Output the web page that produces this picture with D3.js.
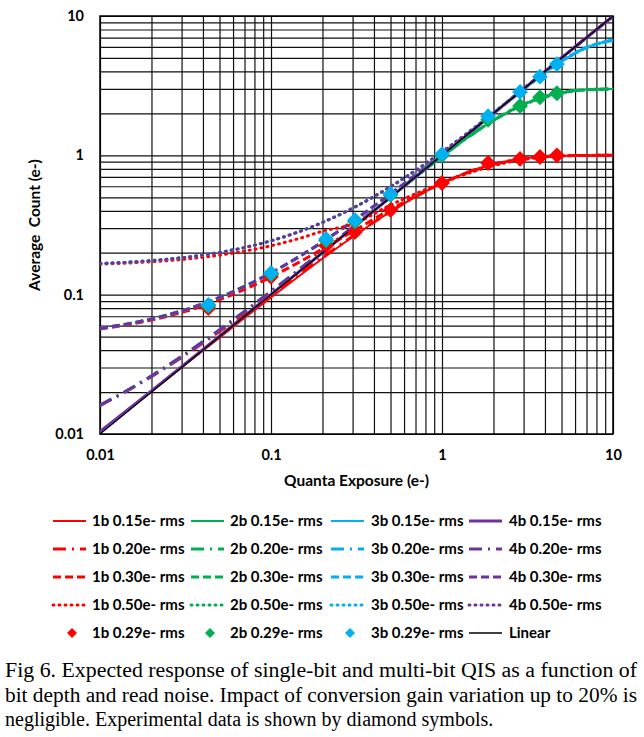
<!DOCTYPE html>
<html>
<head>
<meta charset="utf-8">
<script src="https://cdn.jsdelivr.net/npm/d3@7"></script>
<style>
  html, body { margin: 0; padding: 0; background: #fff; }
  svg { display: block; }
  .lbl { font-family: Lato, "Open Sans", sans-serif; font-weight: bold; fill: #000; white-space: pre; }
  .cap { font-family: "Liberation Serif", "DejaVu Serif", serif; font-size: 20px; fill: #000; }
</style>
</head>
<body>
<div id="chart"></div>
<script>
// quanta exposure (e-), shared x values of the model curves
var exposure = [0.01, 0.015, 0.02, 0.03, 0.05, 0.07, 0.1, 0.15, 0.2, 0.3, 0.5, 0.7, 1, 1.5, 2, 3, 5, 7, 10];

// average count, single bit
var b1_015 = [0.0104, 0.0153, 0.0202, 0.0300, 0.0491, 0.0680, 0.0955, 0.1396, 0.1816, 0.2594, 0.3936, 0.5034, 0.632, 0.777, 0.864, 0.950, 0.993, 0.999, 1.0];
var b1_020 = [0.0160, 0.0210, 0.0258, 0.0354, 0.0544, 0.0730, 0.1002, 0.1438, 0.1854, 0.2624, 0.3954, 0.5043, 0.632, 0.776, 0.864, 0.950, 0.993, 0.999, 1.0];
var b1_030 = [0.0568, 0.0613, 0.0657, 0.0745, 0.0920, 0.1090, 0.1341, 0.1743, 0.2126, 0.2840, 0.4080, 0.5105, 0.632, 0.772, 0.858, 0.945, 0.992, 0.999, 1.0];
var b1_050 = [0.1655, 0.1689, 0.1722, 0.1789, 0.1922, 0.2052, 0.2244, 0.2554, 0.2852, 0.320, 0.440, 0.530, 0.632, 0.759, 0.843, 0.934, 0.989, 0.998, 1.0];
// 2 bit
var b2_015 = [0.0104, 0.0154, 0.0204, 0.0304, 0.0504, 0.0704, 0.1004, 0.1504, 0.2003, 0.2998, 0.4985, 0.6935, 0.977, 1.410, 1.782, 2.328, 2.828, 2.962, 2.997];
var b2_020 = [0.0161, 0.0211, 0.0261, 0.0360, 0.0559, 0.0758, 0.1056, 0.1553, 0.2051, 0.3041, 0.502, 0.696, 0.979, 1.411, 1.782, 2.327, 2.827, 2.961, 2.996];
var b2_030 = [0.0573, 0.0621, 0.0669, 0.0764, 0.0955, 0.1146, 0.1433, 0.1911, 0.2391, 0.335, 0.527, 0.717, 0.992, 1.418, 1.785, 2.318, 2.815, 2.950, 2.99];
var b2_050 = [0.1671, 0.1713, 0.1756, 0.1840, 0.2010, 0.2180, 0.2436, 0.2866, 0.3299, 0.4171, 0.594, 0.771, 1.03, 1.43, 1.79, 2.30, 2.80, 2.955, 2.996];
// 3 bit
var b3_015 = [0.0104, 0.0154, 0.0204, 0.0304, 0.0504, 0.0704, 0.1004, 0.1504, 0.2003, 0.3003, 0.5003, 0.7002, 1.0, 1.499, 1.999, 2.983, 4.744, 5.957, 6.72];
var b3_020 = [0.0161, 0.0211, 0.0261, 0.0360, 0.0559, 0.0758, 0.1056, 0.1553, 0.2051, 0.3046, 0.5038, 0.7031, 1.002, 1.500, 1.999, 2.982, 4.742, 5.955, 6.72];
var b3_030 = [0.0573, 0.0621, 0.0669, 0.0764, 0.0955, 0.1146, 0.1433, 0.1911, 0.2391, 0.3354, 0.529, 0.7237, 1.0176, 1.51, 2.005, 2.985, 4.735, 5.94, 6.71];
var b3_050 = [0.1671, 0.1713, 0.1756, 0.1840, 0.2010, 0.2180, 0.2436, 0.2866, 0.3299, 0.4176, 0.5963, 0.7788, 1.058, 1.535, 2.02, 2.99, 4.72, 5.92, 6.69];
// 4 bit
var b4_015 = [0.0104, 0.0154, 0.0204, 0.0304, 0.0504, 0.0704, 0.1004, 0.1504, 0.2003, 0.3003, 0.5003, 0.7002, 1.0, 1.5, 2.0, 3.0, 5.0, 7.0, 9.95];
var b4_020 = [0.0161, 0.0211, 0.0261, 0.0360, 0.0559, 0.0758, 0.1056, 0.1553, 0.2051, 0.3046, 0.5038, 0.7031, 1.002, 1.501, 2.001, 3.0, 5.0, 7.0, 9.95];
var b4_030 = [0.0573, 0.0621, 0.0669, 0.0764, 0.0955, 0.1146, 0.1433, 0.1911, 0.2391, 0.3354, 0.529, 0.7237, 1.0176, 1.511, 2.007, 3.002, 5.0, 7.0, 9.95];
var b4_050 = [0.1671, 0.1713, 0.1756, 0.1840, 0.2010, 0.2180, 0.2436, 0.2866, 0.3299, 0.4176, 0.5963, 0.7788, 1.058, 1.535, 2.02, 3.008, 5.001, 7.0, 9.94];

// linear reference
var linearX = [0.01, 10];
var linearY = [0.01, 10];

// experimental points (0.29e- rms)
var measX  = [0.043, 0.1, 0.21, 0.31, 0.5, 1.0, 1.86, 2.86, 3.74, 4.7];
var meas1b = [0.080, 0.1345, 0.225, 0.282, 0.405, 0.633, 0.881, 0.942, 0.973, 1.0];
var meas2b = [0.083, 0.140, 0.245, 0.335, 0.520, 1.0, 1.80, 2.26, 2.61, 2.79];
var meas3b = [0.0845, 0.143, 0.251, 0.343, 0.527, 1.02, 1.91, 2.85, 3.67, 4.52];

var tickVals = [0.01, 0.1, 1, 10];
var tickLabels = ["0.01", "0.1", "1", "10"];

var captionLines = [
  "Fig 6. Expected response of single-bit and multi-bit QIS as a function of",
  "bit depth and read noise. Impact of conversion gain variation up to 20% is",
  "negligible. Experimental data is shown by diamond symbols."
];

var width = 644, height = 737;
var plotL = 100, plotR = 613, plotT = 16, plotB = 434;

var red = "#ff0000", green = "#00b050", blue = "#00b0f0", purple = "#7030a0";
var styles = {
  s015: { dash: null, w: 2 },
  s020: { dash: "13,6,2,6", w: 3 },
  s030: { dash: "8,4", w: 3 },
  s050: { dash: "1,5", w: 3 }
};

// one row per read noise, 1b..4b across
var series = [
  { name: "1b 0.15e- rms", v: b1_015, c: red,    s: "s015" },
  { name: "2b 0.15e- rms", v: b2_015, c: green,  s: "s015" },
  { name: "3b 0.15e- rms", v: b3_015, c: blue,   s: "s015" },
  { name: "4b 0.15e- rms", v: b4_015, c: purple, s: "s015", w: 3 },
  { name: "1b 0.20e- rms", v: b1_020, c: red,    s: "s020" },
  { name: "2b 0.20e- rms", v: b2_020, c: green,  s: "s020" },
  { name: "3b 0.20e- rms", v: b3_020, c: blue,   s: "s020" },
  { name: "4b 0.20e- rms", v: b4_020, c: purple, s: "s020" },
  { name: "1b 0.30e- rms", v: b1_030, c: red,    s: "s030" },
  { name: "2b 0.30e- rms", v: b2_030, c: green,  s: "s030" },
  { name: "3b 0.30e- rms", v: b3_030, c: blue,   s: "s030" },
  { name: "4b 0.30e- rms", v: b4_030, c: purple, s: "s030" },
  { name: "1b 0.50e- rms", v: b1_050, c: red,    s: "s050" },
  { name: "2b 0.50e- rms", v: b2_050, c: green,  s: "s050" },
  { name: "3b 0.50e- rms", v: b3_050, c: blue,   s: "s050" },
  { name: "4b 0.50e- rms", v: b4_050, c: purple, s: "s050" }
];
var meas = [
  { name: "1b 0.29e- rms", v: meas1b, c: red },
  { name: "2b 0.29e- rms", v: meas2b, c: green },
  { name: "3b 0.29e- rms", v: meas3b, c: blue }
];

var svg = d3.select("#chart").append("svg")
  .attr("width", width)
  .attr("height", height);

var x = d3.scaleLog().domain([0.01, 10]).range([plotL, plotR]);
var y = d3.scaleLog().domain([0.01, 10]).range([plotB, plotT]);

// grid: 1..9 in each decade
var gridVals = [];
[0.01, 0.1, 1].forEach(function(d){
  for (var k = 1; k < 10; k++) gridVals.push(+(d * k).toPrecision(3));
});
gridVals.push(10);

svg.append("g")
  .attr("transform", "translate(0," + plotB + ")")
  .call(d3.axisBottom(x).tickValues(gridVals).tickSize(-(plotB - plotT)).tickFormat(""))
  .call(function(g){ g.select(".domain").remove(); })
  .selectAll("line").attr("stroke", "#111").attr("stroke-width", 1.2);

svg.append("g")
  .attr("transform", "translate(" + plotL + ",0)")
  .call(d3.axisLeft(y).tickValues(gridVals).tickSize(-(plotR - plotL)).tickFormat(""))
  .call(function(g){ g.select(".domain").remove(); })
  .selectAll("line").attr("stroke", "#111").attr("stroke-width", 1.2);

svg.append("rect")
  .attr("x", plotL).attr("y", plotT)
  .attr("width", plotR - plotL).attr("height", plotB - plotT)
  .attr("fill", "none").attr("stroke", "#000").attr("stroke-width", 1.5);

// tick labels
var xa = svg.append("g")
  .attr("transform", "translate(0," + plotB + ")")
  .call(d3.axisBottom(x).tickValues(tickVals).tickSize(0).tickPadding(16)
    .tickFormat(function(d, i){ return tickLabels[i]; }));
xa.select(".domain").remove();
xa.selectAll("text").attr("class", "lbl").style("font-size", "14.5px");

var ya = svg.append("g")
  .attr("transform", "translate(" + plotL + ",0)")
  .call(d3.axisLeft(y).tickValues(tickVals).tickSize(0).tickPadding(16)
    .tickFormat(function(d, i){ return tickLabels[i]; }));
ya.select(".domain").remove();
ya.selectAll("text").attr("class", "lbl").style("font-size", "14.5px");

svg.append("text").attr("class", "lbl")
  .attr("x", (plotL + plotR) / 2).attr("y", 486)
  .attr("text-anchor", "middle").style("font-size", "15.5px")
  .text("Quanta Exposure (e-)");

svg.append("text").attr("class", "lbl")
  .attr("transform", "translate(40," + ((plotT + plotB) / 2) + ") rotate(-90)")
  .attr("text-anchor", "middle").style("font-size", "15.5px")
  .text("Average  Count (e-)");

// curves
svg.append("clipPath").attr("id", "plotclip")
  .append("rect").attr("x", plotL).attr("y", plotT)
  .attr("width", plotR - plotL).attr("height", plotB - plotT);

var line = d3.line()
  .x(function(d){ return x(d[0]); })
  .y(function(d){ return y(d[1]); })
  .curve(d3.curveMonotoneX);

var plot = svg.append("g").attr("clip-path", "url(#plotclip)");

series.forEach(function(s){
  var st = styles[s.s];
  plot.append("path")
    .datum(d3.zip(exposure, s.v))
    .attr("d", line)
    .attr("fill", "none")
    .attr("stroke", s.c)
    .attr("stroke-width", s.w || st.w)
    .attr("stroke-dasharray", st.dash)
    .attr("stroke-linecap", s.s == "s050" ? "round" : "butt");
});

plot.append("path")
  .datum(d3.zip(linearX, linearY))
  .attr("d", line)
  .attr("fill", "none")
  .attr("stroke", "#000")
  .attr("stroke-width", 1.3);

var diamond = d3.symbol().type(d3.symbolSquare).size(125);
meas.forEach(function(m){
  plot.append("g").selectAll("path")
    .data(d3.zip(measX, m.v))
    .join("path")
    .attr("d", diamond)
    .attr("transform", function(d){ return "translate(" + x(d[0]) + "," + y(d[1]) + ") rotate(45)"; })
    .attr("fill", m.c);
});

// legend
var colLine = [53, 191, 331, 469];
var colText = [92, 230, 371, 509];
var rowY = [521, 549, 577, 605, 633];

var leg = svg.append("g");
series.forEach(function(s, i){
  var r = Math.floor(i / 4), c = i % 4, st = styles[s.s];
  leg.append("line")
    .attr("x1", colLine[c]).attr("x2", colLine[c] + 33)
    .attr("y1", rowY[r]).attr("y2", rowY[r])
    .attr("stroke", s.c)
    .attr("stroke-width", s.w || st.w)
    .attr("stroke-dasharray", st.dash)
    .attr("stroke-linecap", s.s == "s050" ? "round" : "butt");
  leg.append("text").attr("class", "lbl")
    .attr("x", colText[c]).attr("y", rowY[r]).attr("dy", "0.35em")
    .style("font-size", "15px")
    .text(s.name);
});
var legDiamond = d3.symbol().type(d3.symbolSquare).size(50);
meas.forEach(function(m, c){
  leg.append("path")
    .attr("d", legDiamond)
    .attr("transform", "translate(" + (colLine[c] + 19) + "," + rowY[4] + ") rotate(45)")
    .attr("fill", m.c);
  leg.append("text").attr("class", "lbl")
    .attr("x", colText[c]).attr("y", rowY[4]).attr("dy", "0.35em")
    .style("font-size", "15px")
    .text(m.name);
});
leg.append("line")
  .attr("x1", colLine[3]).attr("x2", colLine[3] + 33)
  .attr("y1", rowY[4]).attr("y2", rowY[4])
  .attr("stroke", "#000").attr("stroke-width", 1.3);
leg.append("text").attr("class", "lbl")
  .attr("x", colText[3]).attr("y", rowY[4]).attr("dy", "0.35em")
  .style("font-size", "15px")
  .text("Linear");

// caption
captionLines.forEach(function(t, i){
  var tx = svg.append("text").attr("class", "cap")
    .attr("x", 5).attr("y", 677 + i * 24.5)
    .text(t);
  if (i < 2) tx.attr("textLength", 632).attr("lengthAdjust", "spacingAndGlyphs");
});
</script>
</body>
</html>
